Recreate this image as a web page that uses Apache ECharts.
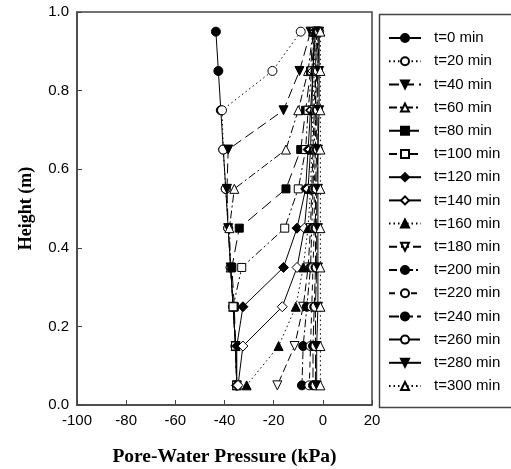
<!DOCTYPE html>
<html><head><meta charset="utf-8">
<script src="https://cdn.jsdelivr.net/npm/echarts@6/dist/echarts.min.js"></script>
<style>html,body{margin:0;padding:0;background:#fff}#c{width:511px;height:469px}</style>
</head><body><div id="c"></div>
<script>
const heights = [0.95,0.85,0.75,0.65,0.55,0.45,0.35,0.25,0.15,0.05];
const labels = ['t=0 min','t=20 min','t=40 min','t=60 min','t=80 min','t=100 min','t=120 min','t=140 min','t=160 min','t=180 min','t=200 min','t=220 min','t=240 min','t=260 min','t=280 min','t=300 min'];
const t0   = [-43.5,-42.5,-41.5,-40.5,-39.5,-38.5,-37.5,-36.5,-35.5,-35];
const t20  = [-9,-20.5,-41,-40.5,-39.5,-38.5,-37.5,-36.5,-35.5,-35];
const t40  = [-5,-9.5,-16,-38.5,-39,-38.5,-37.5,-36.5,-35.5,-35];
const t60  = [-4,-6,-10,-15,-36,-38,-37.5,-36.5,-35.5,-35];
const t80  = [-4,-5,-7,-9,-15,-34,-37,-36,-35.5,-35];
const t100 = [-3.5,-4.5,-6,-7,-10,-15.5,-33,-36.5,-35.5,-35];
const t120 = [-3.5,-4,-5,-6,-7,-10.5,-16,-32.5,-35,-35];
const t140 = [-3,-4,-4.5,-5,-6,-7.5,-10.5,-16.5,-32.5,-34.5];
const t160 = [-3,-3.5,-4,-4.5,-5,-6,-8,-11,-18,-31];
const t180 = [-2.5,-3,-3.5,-4,-4.5,-5,-6,-8,-11.5,-18.5];
const t200 = [-2.5,-3,-3,-3.5,-4,-4.5,-5,-6.5,-8,-8.5];
const t220 = [-2,-2.5,-3,-3,-3.5,-3.5,-4,-4.5,-5,-5.5];
const t240 = [-2,-2,-2.5,-2.5,-3,-3,-3,-3.5,-4,-4];
const t260 = [-1.5,-2,-2,-2,-2.5,-2.5,-2.5,-3,-3,-3];
const t280 = [-1.5,-1.5,-1.5,-2,-2,-2,-2,-2,-2.5,-2.5];
const t300 = [-1,-1,-1,-1,-1,-1,-1,-1,-1,-1];
const allData = [t0,t20,t40,t60,t80,t100,t120,t140,t160,t180,t200,t220,t240,t260,t280,t300];

// style per series: [symbol, filled, rotate, dash]
const styles = [
  ['circle',true,0,'solid'],
  ['circle',false,0,[1.5,3]],
  ['triangle',true,180,[10,5]],
  ['triangle',false,0,[8,3,2,3]],
  ['rect',true,0,[12,6]],
  ['rect',false,0,[8,3,2,3,2,3]],
  ['diamond',true,0,'solid'],
  ['diamond',false,0,'solid'],
  ['triangle',true,0,[1.5,3]],
  ['triangle',false,180,[8,4]],
  ['circle',true,0,[8,3,2,3]],
  ['circle',false,0,[6,5]],
  ['circle',true,0,[10,4]],
  ['circle',false,0,[14,3]],
  ['triangle',true,180,'solid'],
  ['triangle',false,0,[1.5,3]]
];

const series = allData.map((d,i)=>{
  const s = styles[i];
  return {
    name: labels[i], type:'line',
    data: d.map((v,j)=>[v,heights[j]]),
    symbol: s[0], symbolRotate: s[2],
    symbolSize: s[0]==='rect'?8:(s[0]==='diamond'?10:9),
    lineStyle:{color:'#000',width:1,type:s[3]},
    itemStyle:{color:s[1]?'#000':'#fff',borderColor:'#000',borderWidth:1},
    emphasis:{disabled:true},
    animation:false,
    z: 2+i
  };
});

const chart = echarts.init(document.getElementById('c'));
chart.setOption({
  animation:false,
  grid:{left:77,top:12,right:139,bottom:64,outerBoundsMode:'none',containLabel:false,show:true,borderColor:'#444',borderWidth:1.5,backgroundColor:'transparent'},
  xAxis:{type:'value',min:-100,max:20,interval:20,
    name:'Pore-Water Pressure (kPa)',nameLocation:'middle',nameGap:42,
    nameTextStyle:{fontFamily:'Liberation Serif',fontWeight:'bold',fontSize:19.5,color:'#000'},
    axisLine:{show:true,onZero:false,lineStyle:{color:'#444',width:1.5}},
    axisTick:{inside:true,length:5,lineStyle:{color:'#444'}},
    axisLabel:{fontFamily:'Liberation Sans',fontSize:15,color:'#000',margin:8},
    splitLine:{show:false}},
  yAxis:{type:'value',min:0,max:1,interval:0.2,
    name:'Height (m)',nameLocation:'middle',nameGap:42,
    nameTextStyle:{fontFamily:'Liberation Serif',fontWeight:'bold',fontSize:18,color:'#000'},
    axisLine:{show:true,onZero:false,lineStyle:{color:'#444',width:1.5}},
    axisTick:{inside:true,length:5,lineStyle:{color:'#444'}},
    axisLabel:{fontFamily:'Liberation Sans',fontSize:15,color:'#000',margin:8,formatter:v=>v.toFixed(1)},
    splitLine:{show:false}},
  legend:{orient:'vertical',left:383,top:25.5,itemWidth:32,itemHeight:10,itemGap:8.2,
    textStyle:{fontFamily:'Liberation Sans',fontSize:15,color:'#000',padding:[0,0,0,8]},
    data:labels},
  graphic:[{type:'rect',left:377,top:12,shape:{width:150,height:393},
    style:{fill:'none',stroke:'#444',lineWidth:1.5},silent:true}],
  series: series
});
</script></body></html>
